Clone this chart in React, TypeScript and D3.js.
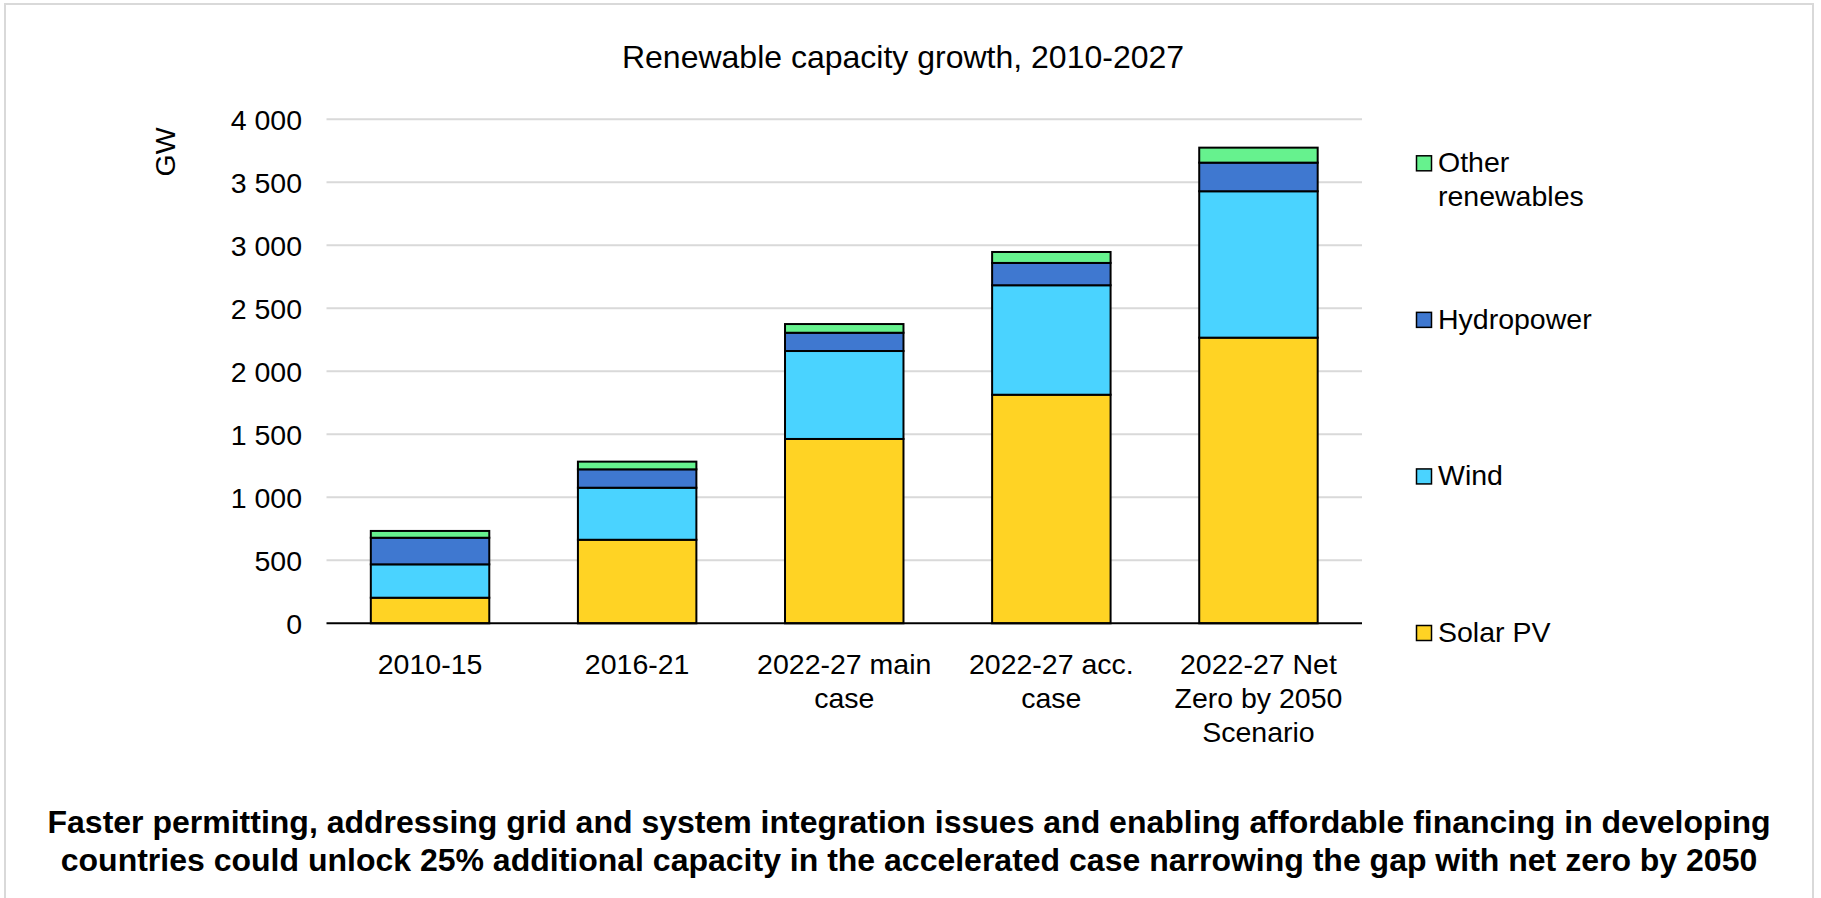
import React from "react";
import * as d3 from "d3";

const categories = ["2010-15", "2016-21", "2022-27 main", "2022-27 acc.", "2022-27 NZE"];
const categoryLabels: string[][] = [
  ["2010-15"],
  ["2016-21"],
  ["2022-27 main", "case"],
  ["2022-27 acc.", "case"],
  ["2022-27 Net", "Zero by 2050", "Scenario"],
];
const solarPV = [203, 663, 1463, 1814, 2267];
const wind = [265, 413, 698, 869, 1162];
const hydropower = [211, 146, 145, 177, 227];
const otherRenewables = [54, 61, 69, 87, 119];
const yTicks = [0, 500, 1000, 1500, 2000, 2500, 3000, 3500, 4000];

const seriesNames = ["Solar PV", "Wind", "Hydropower", "Other renewables"];
const seriesColors = ["#FFD324", "#4AD3FF", "#3F78D0", "#66F28E"];
const legendLines: string[][] = [["Solar PV"], ["Wind"], ["Hydropower"], ["Other", "renewables"]];

const title = "Renewable capacity growth, 2010-2027";
const caption = [
  "Faster permitting, addressing grid and system integration issues and enabling affordable financing in developing",
  "countries could unlock 25% additional capacity in the accelerated case narrowing the gap with net zero by 2050",
];

const W = 1821;
const H = 898;
const FONT = "'Liberation Sans', Arial, sans-serif";

export default function App() {
  const x = d3
    .scaleBand<string>()
    .domain(categories)
    .range([326.5, 1362])
    .paddingInner(0.428)
    .paddingOuter(0.214);
  const y = d3.scaleLinear().domain([0, 4000]).range([623.3, 119.3]);

  const table = categories.map((c, i) => ({
    cat: c,
    "Solar PV": solarPV[i],
    Wind: wind[i],
    Hydropower: hydropower[i],
    "Other renewables": otherRenewables[i],
  }));
  const stack = d3.stack<any>().keys(seriesNames)(table);

  const fmt = (v: number) => d3.format(",")(v).replace(/,/g, " ");

  const legendY = d3.scaleLinear().domain([0, 3]).range([633, 163.3]);

  return (
    <div style={{ position: "absolute", left: 0, top: 0 }}>
      <svg width={W} height={H} style={{ display: "block", background: "#fff" }} fontFamily={FONT}>
        <rect x={5} y={4} width={1808} height={910} fill="none" stroke="#d9d9d9" strokeWidth={2} />
        <text x={903} y={67.5} textAnchor="middle" fontSize={32} fill="#000">
          {title}
        </text>
        <text
          transform="translate(175,152) rotate(-90)"
          textAnchor="middle"
          fontSize={28.5}
          fill="#000"
        >
          GW
        </text>
        {yTicks.map((t) => (
          <g key={t}>
            {t > 0 && (
              <line
                x1={x.range()[0]}
                x2={x.range()[1]}
                y1={y(t)}
                y2={y(t)}
                stroke="#d9d9d9"
                strokeWidth={2}
              />
            )}
            <text x={302} y={y(t)} dy="0.36em" textAnchor="end" fontSize={28.5} fill="#000">
              {fmt(t)}
            </text>
          </g>
        ))}
        {stack.map((s, si) => (
          <g key={s.key} fill={seriesColors[si]}>
            {s.map((d, i) => (
              <rect
                key={i}
                x={x(categories[i])}
                width={x.bandwidth()}
                y={y(d[1])}
                height={y(d[0]) - y(d[1])}
                stroke="#000"
                strokeWidth={2}
              />
            ))}
          </g>
        ))}
        <line
          x1={x.range()[0]}
          x2={x.range()[1]}
          y1={y(0)}
          y2={y(0)}
          stroke="#000"
          strokeWidth={2}
        />
        {categories.map((c, i) => (
          <text
            key={c}
            x={(x(c) as number) + x.bandwidth() / 2}
            y={674}
            textAnchor="middle"
            fontSize={28.5}
            fill="#000"
          >
            {categoryLabels[i].map((ln, li) => (
              <tspan key={li} x={(x(c) as number) + x.bandwidth() / 2} dy={li === 0 ? 0 : 34}>
                {ln}
              </tspan>
            ))}
          </text>
        ))}
        {seriesNames.map((n, i) => {
          const cy = legendY(i);
          return (
            <g key={n}>
              <rect
                x={1416.5}
                y={cy - 7.5}
                width={15}
                height={15}
                fill={seriesColors[i]}
                stroke="#000"
                strokeWidth={1.5}
              />
              <text x={1438} y={cy + 9} fontSize={28.5} fill="#000">
                {legendLines[i].map((ln, li) => (
                  <tspan key={li} x={1438} dy={li === 0 ? 0 : 34}>
                    {ln}
                  </tspan>
                ))}
              </text>
            </g>
          );
        })}
        {caption.map((ln, i) => (
          <text
            key={i}
            x={909}
            y={833 + i * 38}
            textAnchor="middle"
            fontSize={32}
            fontWeight="bold"
            fill="#000"
          >
            {ln}
          </text>
        ))}
      </svg>
    </div>
  );
}
